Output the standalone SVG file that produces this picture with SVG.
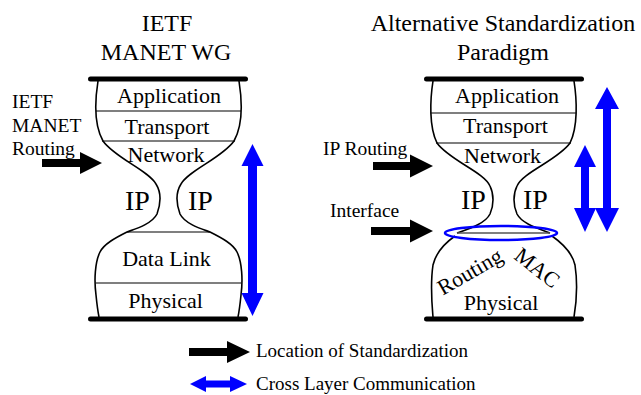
<svg xmlns="http://www.w3.org/2000/svg" width="641" height="395" viewBox="0 0 641 395">
<style>
text{font-family:"Liberation Serif","Times New Roman",serif;fill:#000}
.t{font-size:24px;text-anchor:middle}
.l{font-size:22px;text-anchor:middle}
.ip{font-size:28px}
.s{font-size:19.5px}
.g{font-size:19px}
.bar{stroke:#000;stroke-width:5;stroke-linecap:round;fill:none}
.o{stroke:#000;stroke-width:1.6;fill:none}
.ln{stroke:#000;stroke-width:1.2}
.blk{fill:#000}
.blu{fill:#0000ff}
</style>
<rect width="641" height="395" fill="#fff"/>
<g id="left-hourglass">
<text class="t" x="167" y="31">IETF</text>
<text class="t" x="166" y="60">MANET WG</text>
<line class="bar" x1="90.5" y1="79" x2="245.5" y2="79"/>
<line class="bar" x1="90.5" y1="319" x2="245.5" y2="319"/>
<path class="o" d="M98,81 C95,100 94,125 103,141 C115,158 148,170 156,184 C161,192 161,203 157,214 C152,224 135,229 127,232 C115,238 104,244 100,252 C95,262 94,280 96,295 C97,305 98,312 99,317"/>
<path class="o" d="M239,81 C242,100 243,125 234,141 C222,158 189,170 181,184 C176,192 176,203 180,214 C185,224 202,229 210,232 C222,238 233,244 237,252 C242,262 243,280 241,295 C240,305 239,312 238,317"/>
<line class="ln" x1="96" y1="111" x2="241" y2="111"/>
<line class="ln" x1="102" y1="141" x2="235" y2="141"/>
<line class="ln" x1="127" y1="232" x2="210" y2="232"/>
<line class="ln" x1="96" y1="283" x2="241" y2="283"/>
<text class="l" x="169" y="103">Application</text>
<text class="l" x="167" y="134">Transport</text>
<text class="l" x="166" y="162">Network</text>
<text class="ip" x="125" y="210">IP</text>
<text class="ip" x="188" y="210">IP</text>
<text class="l" x="166.5" y="266">Data Link</text>
<text class="l" x="165.5" y="308">Physical</text>
</g>
<g id="right-hourglass">
<text class="t" x="503" y="31">Alternative Standardization</text>
<text class="t" x="503" y="60">Paradigm</text>
<line class="bar" x1="426.5" y1="79" x2="581.5" y2="79"/>
<line class="bar" x1="426.5" y1="319" x2="581.5" y2="319"/>
<path class="o" d="M433,81 C430,100 429,127 437,143 C449,160 484,172 490,186 C494,194 494,205 490,214 C485,224 468,229 457,233"/>
<path class="o" d="M574,81 C577,100 578,127 570,143 C558,160 523,172 517,186 C513,194 513,205 517,214 C522,224 540,229 550,233"/>
<path class="o" d="M455,236 C445,243 436,252 433,265 C430,285 432,305 433,317"/>
<path class="o" d="M552,236 C562,243 572,252 575,265 C578,285 576,305 574,317"/>
<line class="ln" x1="431" y1="113" x2="576" y2="113"/>
<line class="ln" x1="436" y1="143" x2="571" y2="143"/>
<line x1="457" y1="233" x2="550" y2="233" stroke="#555" stroke-width="1.6"/>
<ellipse cx="501" cy="233" rx="56" ry="7" fill="none" stroke="#0000ff" stroke-width="2.5"/>
<text class="l" x="507" y="103">Application</text>
<text class="l" x="505.5" y="133">Transport</text>
<text class="l" x="502.5" y="163">Network</text>
<text class="ip" x="461" y="209">IP</text>
<text class="ip" x="523" y="209">IP</text>
<text class="l" transform="translate(470,272) rotate(-30)" x="0" y="7">Routing</text>
<text class="l" transform="translate(537,268) rotate(38)" x="0" y="7">MAC</text>
<text class="l" x="501" y="310">Physical</text>
</g>
<g id="labels">
<text class="s" x="12" y="108">IETF</text>
<text class="s" x="12" y="132">MANET</text>
<text class="s" x="12" y="155">Routing</text>
<text class="s" x="323" y="155">IP Routing</text>
<text class="s" x="330" y="217">Interface</text>
</g>
<g id="connectors">
<polygon class="blk" points="42,159 80,159 80,152 102,163 80,174 80,167 42,167"/>
<polygon class="blk" points="373,162 410,162 410,154.5 433,166 410,177.5 410,170 373,170"/>
<polygon class="blk" points="371,227 410,227 410,219.5 433,231 410,242.5 410,235 371,235"/>
<polygon class="blu" points="252.5,144 263.5,166 257,166 257,293 263.5,293 252.5,316 241.5,293 248,293 248,166 241.5,166"/>
<polygon class="blu" points="607,87 619,109 611,109 611,208 619,208 607,232 595,208 603,208 603,109 595,109"/>
<polygon class="blu" points="585,145 596,167 589,167 589,208 596,208 585,232 574,208 581,208 581,167 574,167"/>
</g>
<g id="legend">
<polygon class="blk" points="189,348 227,348 227,341 250,352 227,363 227,356 189,356"/>
<polygon class="blu" points="190,384 206,376 206,380.5 230,380.5 230,376 247,384 230,392 230,387.5 206,387.5 206,392"/>
<text class="g" x="256" y="357">Location of Standardization</text>
<text class="g" x="256" y="390">Cross Layer Communication</text>
</g>
</svg>
